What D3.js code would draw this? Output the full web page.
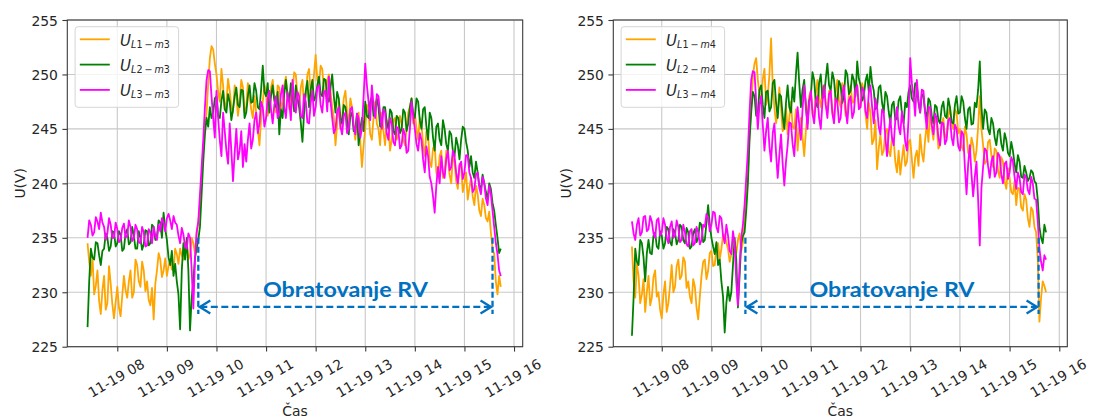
<!DOCTYPE html>
<html>
<head>
<meta charset="utf-8">
<script src="https://cdn.jsdelivr.net/npm/d3@7"></script>
<style>
  body { margin: 0; background: #fff; }
  svg { display: block; }
</style>
</head>
<body>
<svg id="chart" width="1093" height="420"></svg>
<script>
// Phase voltages at two metering points (m3, m4), one sample every two minutes
const startTime = "2020-11-19T07:24";
const stepMinutes = 2;

const uL1m3 = [
  234.5, 232.8, 231.5, 233.2, 229.8, 230.6, 232.0, 229.2, 228.0, 230.2,
  231.5, 228.4, 229.0, 232.4, 230.8, 228.9, 227.6, 229.1, 230.5, 228.6,
  227.8, 229.7, 231.5, 230.2, 229.5, 231.0, 232.0, 229.5, 230.0, 233.0,
  232.5, 231.0, 230.5, 232.8, 232.0, 230.1, 231.0, 229.3, 228.8, 230.4,
  227.5, 230.8, 232.0, 233.6, 233.0, 231.4, 232.0, 233.1, 231.5, 232.4,
  233.0, 232.1, 232.0, 234.0, 233.5, 232.6, 234.0, 233.4, 233.0, 234.6,
  234.5, 233.0, 233.5, 235.0, 234.5, 233.6, 235.5, 236.4, 238.0, 240.5,
  243.0, 245.0, 246.5, 249.2, 251.5, 252.6, 252.3, 251.0, 250.0, 248.4,
  247.5, 250.5, 249.0, 246.8, 247.5, 249.6, 248.5, 247.0, 246.5, 249.0,
  248.0, 246.2, 247.5, 249.5, 248.8, 246.5, 247.0, 249.2, 248.0, 246.8,
  246.0, 248.0, 246.5, 245.0, 243.5, 246.0, 247.5, 249.0, 248.5, 246.2,
  247.0, 248.8, 249.5, 247.8, 246.5, 249.0, 248.8, 246.8, 247.5, 249.0,
  249.8, 248.0, 246.8, 248.2, 248.5, 250.2, 250.0, 248.0, 247.0, 248.8,
  249.5, 247.0, 248.0, 250.0, 250.5, 248.2, 248.5, 250.0, 251.8, 249.5,
  249.0, 250.8, 250.5, 248.5, 248.0, 249.5, 250.0, 248.5, 247.0, 246.0,
  243.5, 245.5, 247.5, 245.0, 246.0, 247.8, 248.5, 246.5, 245.5, 247.8,
  247.0, 245.2, 244.0, 246.0, 246.5, 243.8, 241.5, 243.5, 245.0, 247.2,
  246.5, 244.5, 244.0, 246.0, 247.5, 245.5, 245.0, 243.5, 246.5, 244.8,
  243.5, 245.8, 245.5, 243.0, 244.0, 245.8, 246.0, 244.0, 244.5, 246.2,
  245.5, 244.0, 243.5, 245.0, 246.5, 247.0, 247.8, 245.5, 246.5, 245.0,
  244.0, 246.0, 245.5, 243.5, 242.5, 244.8, 244.5, 242.0, 241.5, 243.2,
  243.5, 241.0, 240.5, 242.5, 243.0, 240.5, 241.0, 243.0, 242.5, 240.8,
  240.0, 242.5, 242.0, 240.2, 239.5, 241.8, 241.5, 239.2, 240.0, 241.0,
  238.5, 239.6, 240.5, 238.8, 238.0, 239.8, 239.0, 237.5, 237.0, 238.6,
  238.0, 236.8, 236.5, 237.4, 235.5, 234.0, 233.5, 231.0, 229.8, 231.5,
  230.5
];
const uL2m3 = [
  226.8, 231.0, 234.0, 233.2, 233.0, 234.6, 234.5, 233.4, 232.5, 233.8,
  234.0, 235.4, 235.0, 233.8, 234.2, 235.6, 235.5, 234.2, 234.5, 235.6,
  235.3, 233.8, 234.0, 235.4, 235.8, 234.4, 234.6, 236.0, 235.2, 234.0,
  234.0, 235.6, 235.0, 233.9, 234.4, 235.7, 235.6, 234.3, 234.5, 236.2,
  236.0, 234.8, 235.2, 236.6, 236.4, 235.0, 237.3, 235.8, 234.8, 233.2,
  232.5, 233.8, 231.5, 232.6, 231.0, 229.8, 226.6, 232.0, 234.5, 233.0,
  235.0, 232.0, 226.5, 229.5, 231.0, 233.2, 234.0, 234.8, 236.0, 239.0,
  242.0, 244.5, 246.0, 245.2, 247.0, 246.0, 246.5, 247.8, 248.0, 246.2,
  246.0, 247.6, 248.5, 246.8, 246.5, 248.2, 247.5, 245.8, 246.8, 248.0,
  248.8, 247.2, 247.0, 248.6, 248.5, 246.0, 246.5, 248.0, 249.0, 247.4,
  247.5, 249.2, 248.5, 247.0, 246.8, 248.6, 250.8, 248.4, 248.0, 249.2,
  246.5, 248.0, 249.0, 247.6, 247.0, 248.4, 244.5, 246.8, 246.0, 248.2,
  249.5, 248.0, 247.5, 249.2, 248.0, 246.6, 249.0, 247.8, 247.0, 245.6,
  243.8, 246.5, 248.5, 249.4, 247.0, 248.6, 249.5, 247.6, 248.0, 249.0,
  249.8, 248.2, 248.0, 249.6, 249.5, 247.8, 247.5, 248.8, 250.0, 248.0,
  246.5, 248.4, 247.8, 246.0, 245.5, 247.2, 247.0, 245.8, 244.5, 246.2,
  246.5, 244.8, 245.0, 246.4, 243.5, 245.0, 246.0, 244.8, 247.5, 246.2,
  246.0, 247.5, 248.0, 246.2, 246.5, 247.8, 247.0, 245.2, 245.5, 247.0,
  247.0, 245.6, 245.0, 246.8, 246.5, 244.8, 244.5, 246.2, 246.0, 244.6,
  245.0, 246.8, 246.5, 244.8, 245.5, 247.0, 247.8, 246.4, 246.0, 247.8,
  247.5, 245.8, 245.0, 246.8, 247.0, 245.2, 244.0, 246.5, 246.0, 244.2,
  243.0, 245.2, 245.5, 244.0, 243.5, 245.8, 245.0, 243.6, 243.0, 244.8,
  244.5, 243.0, 242.5, 244.2, 243.5, 242.2, 244.0, 245.2, 245.0, 243.8,
  243.0, 241.5, 242.5, 241.0, 240.5, 242.0, 241.0, 239.8, 239.5, 240.8,
  240.0, 239.2, 238.5, 240.0, 239.5, 238.2, 237.5, 236.2, 235.0, 233.6,
  234.0
];
const uL3m3 = [
  235.0, 236.6, 236.2, 235.2, 235.5, 236.9, 236.5, 235.8, 237.3, 236.4,
  236.0, 234.8, 235.4, 236.8, 236.2, 235.0, 235.0, 236.4, 235.8, 234.6,
  234.8, 235.9, 236.3, 235.0, 235.2, 236.6, 236.0, 234.7, 235.0, 236.2,
  235.8, 234.6, 234.5, 236.0, 235.5, 234.2, 234.3, 235.8, 235.5, 234.5,
  236.0, 235.2, 234.8, 236.2, 235.6, 236.8, 236.4, 235.6, 236.8, 237.2,
  236.6, 235.8, 237.0, 236.4, 236.2, 235.2, 234.5, 235.9, 235.3, 234.2,
  234.0, 235.4, 235.0, 232.0, 228.5, 233.0, 235.5, 236.5, 239.0, 241.5,
  244.0, 247.0, 249.5, 250.4, 250.3, 248.0, 246.0, 244.2, 248.5, 246.0,
  244.0, 242.5, 246.5, 244.8, 243.0, 241.8, 245.5, 243.0, 240.2, 242.8,
  245.0, 242.2, 243.0, 244.8, 241.5, 243.6, 242.0, 244.0, 245.5, 243.2,
  244.0, 245.8, 246.5, 244.6, 245.5, 247.5, 247.0, 245.2, 246.0, 247.8,
  248.5, 246.8, 245.5, 247.2, 248.0, 246.0, 246.5, 248.2, 249.0, 247.0,
  246.0, 248.4, 247.5, 245.8, 249.5, 247.6, 246.5, 248.4, 248.0, 246.2,
  246.0, 248.2, 247.5, 245.6, 245.5, 247.4, 248.5, 246.2, 247.0, 248.8,
  249.0, 247.2, 246.5, 248.4, 248.5, 246.6, 249.8, 247.5, 246.0, 244.6,
  245.0, 246.6, 247.0, 245.2, 244.5, 246.2, 246.5, 244.6, 245.0, 246.8,
  247.0, 245.2, 244.5, 246.4, 246.0, 244.2, 245.0, 248.0, 251.0, 249.0,
  247.5, 245.8, 249.0, 247.2, 246.0, 248.2, 248.0, 246.4, 245.0, 246.8,
  246.5, 244.6, 244.0, 246.0, 245.5, 243.8, 243.5, 245.2, 245.0, 243.2,
  243.5, 245.0, 244.5, 242.8, 243.0, 245.0, 247.5, 246.2, 245.0, 243.6,
  243.0, 244.6, 244.0, 242.2, 241.0, 243.4, 242.5, 240.6, 240.0, 238.8,
  237.3, 239.8, 241.5, 240.0, 242.5, 241.0, 240.5, 242.2, 243.0, 241.2,
  241.5, 243.0, 242.5, 241.0, 240.0, 241.6, 242.0, 240.4, 241.0, 242.6,
  242.5, 241.0, 240.5, 239.2, 239.5, 240.8, 241.0, 239.6, 239.0, 240.6,
  240.0, 238.6, 238.0, 239.8, 239.0, 237.5, 236.0, 234.5, 233.5, 232.0,
  231.5
];

const uL1m4 = [
  234.2, 231.0, 229.5, 232.6, 231.5, 229.0, 229.8, 231.2, 228.2, 230.0,
  231.5, 228.8, 229.5, 231.4, 232.0, 229.6, 230.0, 228.4, 227.6, 229.8,
  231.0, 228.2, 229.0, 230.6, 232.5, 230.0, 230.5, 232.4, 233.0, 231.2,
  231.5, 233.2, 232.8, 230.4, 231.0, 229.6, 229.0, 231.2, 230.5, 228.6,
  227.5, 229.6, 231.5, 232.8, 233.0, 231.2, 232.0, 233.6, 233.8, 232.4,
  232.5, 234.2, 234.5, 233.0, 234.0, 235.2, 235.3, 234.6, 234.0, 232.8,
  233.5, 235.0, 234.5, 233.6, 234.8, 235.4, 233.8, 234.6, 236.5, 238.5,
  241.0, 244.5, 247.0, 249.8, 251.0, 251.5, 249.5, 248.2, 247.5, 249.6,
  250.5, 247.2, 248.0, 250.0, 253.3, 249.0, 247.0, 245.5, 246.5, 248.8,
  247.0, 244.8, 245.0, 247.2, 244.5, 246.0, 247.5, 245.2, 245.0, 246.8,
  243.0, 245.0, 246.0, 244.2, 242.5, 244.8, 246.5, 248.0, 248.5, 246.8,
  246.0, 248.2, 249.5, 247.8, 247.0, 248.8, 249.0, 247.2, 246.5, 248.5,
  248.5, 246.6, 246.0, 248.4, 249.5, 247.6, 247.0, 249.2, 248.0, 246.2,
  246.5, 248.2, 249.0, 247.4, 247.5, 249.4, 249.0, 247.2, 247.0, 249.2,
  248.5, 246.4, 245.0, 247.4, 246.5, 243.6, 244.0, 245.8, 241.3, 243.2,
  244.5, 242.6, 243.0, 244.8, 245.0, 243.0, 242.5, 244.2, 244.0, 242.0,
  241.0, 243.0, 240.8, 242.2, 243.5, 241.6, 242.0, 243.8, 244.0, 242.2,
  240.5, 242.4, 243.0, 241.6, 244.5, 242.8, 242.0, 244.0, 245.5, 243.8,
  246.8, 245.0, 244.0, 246.2, 245.5, 243.2, 243.5, 245.4, 246.0, 244.2,
  244.5, 246.2, 247.0, 245.4, 245.0, 246.8, 246.5, 244.6, 245.0, 243.4,
  243.0, 245.2, 244.5, 242.8, 242.5, 244.2, 243.5, 242.0, 243.0, 245.2,
  248.0, 245.0, 243.5, 241.8, 242.0, 243.8, 244.0, 242.6, 241.5, 243.2,
  243.0, 241.2, 240.5, 242.4, 242.0, 240.2, 239.5, 241.4, 240.5, 239.2,
  239.0, 240.2, 238.0, 239.6, 239.5, 237.8, 237.5, 239.0, 238.5, 236.8,
  236.0, 237.8, 237.5, 236.0, 235.5, 233.0, 227.3, 229.5, 231.0, 230.6,
  230.0
];
const uL2m4 = [
  226.0, 229.5, 234.0, 232.8, 232.5, 234.8, 234.5, 233.2, 231.0, 233.6,
  234.8, 233.6, 233.5, 235.2, 235.5, 234.2, 234.0, 235.6, 235.2, 234.0,
  234.5, 236.0, 235.8, 234.6, 234.3, 235.8, 235.5, 234.4, 234.8, 236.2,
  236.0, 234.8, 234.5, 235.9, 235.5, 234.0, 234.2, 235.4, 235.8, 234.6,
  235.0, 236.4, 236.2, 234.6, 234.8, 236.4, 238.0, 236.2, 235.0, 234.2,
  233.5, 234.6, 232.5, 233.0, 231.0, 229.6, 226.3, 229.0, 230.5, 229.2,
  230.0, 232.5, 235.0, 233.0, 228.6, 231.5, 234.5, 235.2, 235.5, 237.5,
  240.0, 244.0, 246.5, 248.4, 248.0, 246.2, 246.5, 248.6, 249.0, 247.2,
  246.0, 248.4, 248.5, 246.6, 247.0, 249.2, 249.5, 247.4, 246.0, 248.2,
  248.0, 246.2, 245.0, 247.4, 249.0, 247.0, 246.5, 248.8, 247.5, 250.0,
  252.0, 249.2, 247.0, 248.6, 249.5, 247.0, 245.5, 247.6, 248.0, 250.2,
  249.5, 247.4, 247.0, 249.2, 250.0, 247.8, 248.0, 249.6, 251.0, 249.0,
  248.5, 250.2, 249.5, 247.6, 247.5, 249.4, 249.0, 247.4, 248.0, 250.4,
  250.0, 248.2, 248.5, 250.0, 249.5, 248.0, 251.2, 249.6, 249.0, 247.6,
  248.0, 249.4, 250.0, 248.4, 250.7, 249.2, 248.5, 246.8, 247.0, 248.8,
  249.0, 247.4, 246.5, 248.4, 248.0, 246.6, 245.5, 247.2, 247.5, 245.8,
  246.0, 247.6, 248.0, 246.4, 245.5, 247.4, 247.0, 248.4, 249.0, 247.8,
  247.5, 249.2, 249.0, 247.4, 246.5, 248.2, 248.0, 246.6, 246.0, 247.8,
  247.5, 246.2, 245.5, 247.2, 247.0, 245.8, 245.5, 247.0, 247.5, 246.2,
  246.0, 247.8, 247.0, 245.6, 245.5, 247.2, 248.0, 246.4, 246.5, 248.0,
  247.5, 246.0, 245.0, 246.8, 247.0, 245.4, 245.5, 247.4, 247.0, 248.6,
  251.2, 247.0, 245.0, 246.8, 246.5, 245.0, 244.5, 246.0, 245.5, 244.2,
  243.5, 244.8, 245.0, 243.6, 243.0, 244.6, 244.0, 242.8, 242.5, 243.8,
  243.0, 241.8, 241.0, 242.6, 242.0, 240.6, 240.5, 241.6, 241.0, 240.2,
  240.5, 241.2, 241.0, 240.2, 240.0, 238.5, 236.0, 235.0, 234.5, 236.2,
  235.5
];
const uL3m4 = [
  236.5, 235.4, 234.8, 236.2, 236.8, 235.2, 235.5, 236.9, 237.0, 235.6,
  235.8, 237.0, 236.5, 235.4, 235.0, 236.6, 236.8, 235.2, 235.5, 236.8,
  236.2, 235.0, 234.5, 236.0, 236.5, 235.0, 235.2, 236.6, 236.0, 234.6,
  234.8, 236.2, 235.5, 234.4, 234.2, 235.6, 235.8, 234.3, 234.5, 236.0,
  235.5, 234.4, 234.8, 236.2, 236.0, 237.2, 236.8, 235.6, 236.2, 237.4,
  237.3, 236.0, 235.5, 237.0, 236.8, 235.2, 234.5, 236.2, 235.2, 233.8,
  233.5, 235.6, 234.5, 231.0, 228.8, 232.5, 235.0, 236.2, 238.0, 240.5,
  243.0, 246.5, 249.5, 250.3, 250.2, 247.5, 245.0, 247.2, 248.0, 245.4,
  243.0, 244.8, 246.0, 243.4, 242.0, 244.6, 245.5, 242.8, 240.5, 242.6,
  244.5, 241.8, 239.8, 242.0, 243.5, 245.6, 245.5, 243.6, 242.5, 245.2,
  247.0, 245.4, 244.0, 246.8, 249.0, 247.2, 245.0, 247.4, 248.5, 246.4,
  245.5, 247.6, 248.0, 246.0, 245.0, 247.4, 249.0, 247.2, 246.0, 248.2,
  248.5, 246.4, 245.5, 247.8, 247.5, 245.6, 246.0, 248.2, 249.0, 246.8,
  245.5, 247.6, 248.0, 246.0, 246.5, 248.6, 249.0, 246.8, 247.0, 248.8,
  248.5, 246.6, 246.0, 248.4, 249.0, 247.0, 245.5, 247.8, 247.0, 245.2,
  244.5, 246.8, 246.5, 244.2, 242.5, 244.6, 246.0, 244.2, 243.5, 245.8,
  247.0, 245.2, 244.5, 246.6, 245.5, 243.8, 243.0, 246.0, 251.5, 249.2,
  248.0, 246.2, 249.5, 247.6, 246.5, 248.6, 248.5, 246.4, 245.0, 247.0,
  247.0, 245.4, 244.5, 246.4, 246.0, 244.2, 243.5, 245.6, 245.5, 243.6,
  244.0, 245.8, 246.0, 244.2, 243.5, 245.4, 245.0, 243.4, 243.0, 244.8,
  244.5, 241.5, 239.0, 241.8, 243.5, 240.8, 238.8, 240.6, 242.0, 238.5,
  234.3, 239.6, 241.5, 243.2, 243.0, 241.6, 240.5, 242.0, 242.5, 240.6,
  241.0, 242.8, 242.5, 240.8, 240.0, 241.8, 242.0, 240.4, 241.0, 242.4,
  242.0, 240.6, 239.5, 241.0, 240.5, 239.2, 239.0, 240.8, 240.5, 239.4,
  239.0, 240.6, 240.0, 238.6, 238.5, 236.5, 234.0, 232.8, 232.0, 233.4,
  233.0
];

const phaseNames = ["L1", "L2", "L3"];
const yTicks = [225, 230, 235, 240, 245, 250, 255];
const xTickTimes = [
  "2020-11-19T08:00", "2020-11-19T09:00", "2020-11-19T10:00",
  "2020-11-19T11:00", "2020-11-19T12:00", "2020-11-19T13:00",
  "2020-11-19T14:00", "2020-11-19T15:00", "2020-11-19T16:00"
];
const annotationText = "Obratovanje RV";
const xLabel = "Čas";
const yLabel = "U(V)";

// ---- styling & layout ----
const phaseColors = ["#FFA500", "#008000", "#FF00FF"];
const annotColor = "#0070C0";
const parseMin = d3.timeParse("%Y-%m-%dT%H:%M");
const parseSec = d3.timeParse("%Y-%m-%dT%H:%M:%S");

const t0 = parseMin(startTime);
const times = d3.range(uL1m3.length).map(i => d3.timeMinute.offset(t0, i * stepMinutes));
const tickDates = xTickTimes.map(parseMin);

const plotTop = 20, plotBottom = 346.7;

const panels = [
  {
    meter: "m3", series: [uL1m3, uL2m3, uL3m3], left: 67.3, right: 522.7,
    domain: ["2020-11-19T06:59:30", "2020-11-19T16:10:30"],
    opStart: "2020-11-19T09:38", opEnd: "2020-11-19T15:34"
  },
  {
    meter: "m4", series: [uL1m4, uL2m4, uL3m4], left: 613.3, right: 1067.3,
    domain: ["2020-11-19T07:01:30", "2020-11-19T16:09:40"],
    opStart: "2020-11-19T09:41", opEnd: "2020-11-19T15:35"
  }
];

const svg = d3.select("#chart");
const fontFam = "'DejaVu Sans', sans-serif";
const fmt = d3.timeFormat("%m-%d %H");

panels.forEach((p, pi) => {
  const x = d3.scaleTime().domain(p.domain.map(parseSec)).range([p.left, p.right]);
  const y = d3.scaleLinear().domain([225, 255]).range([plotBottom, plotTop]);
  const g = svg.append("g");

  // grid
  g.append("g").selectAll("line").data(tickDates).join("line")
    .attr("x1", d => x(d)).attr("x2", d => x(d))
    .attr("y1", plotTop).attr("y2", plotBottom)
    .attr("stroke", "#c8c8c8").attr("stroke-width", 1.1);
  g.append("g").selectAll("line").data(yTicks).join("line")
    .attr("x1", p.left).attr("x2", p.right)
    .attr("y1", d => y(d)).attr("y2", d => y(d))
    .attr("stroke", "#c8c8c8").attr("stroke-width", 1.1);

  // clip to the plotting area
  const clipId = "clip" + pi;
  svg.append("clipPath").attr("id", clipId).append("rect")
    .attr("x", p.left).attr("y", plotTop)
    .attr("width", p.right - p.left).attr("height", plotBottom - plotTop);

  // phase voltage lines (L1, L2, L3 drawn in that order)
  const line = d3.line().x((d, i) => x(times[i])).y(d => y(d));
  const lg = g.append("g").attr("clip-path", `url(#${clipId})`);
  p.series.forEach((s, k) => {
    lg.append("path").datum(s)
      .attr("d", line)
      .attr("fill", "none")
      .attr("stroke", phaseColors[k])
      .attr("stroke-width", 1.8)
      .attr("stroke-linejoin", "round");
  });

  // frame
  g.append("rect")
    .attr("x", p.left).attr("y", plotTop)
    .attr("width", p.right - p.left).attr("height", plotBottom - plotTop)
    .attr("fill", "none").attr("stroke", "#3a3a3a").attr("stroke-width", 1.1);

  // axes
  const yAxis = g.append("g").attr("transform", `translate(${p.left},0)`)
    .call(d3.axisLeft(y).tickValues(yTicks).tickSize(4.9).tickPadding(4.5));
  yAxis.select(".domain").remove();
  yAxis.selectAll("line").attr("stroke", "#3a3a3a").attr("stroke-width", 1.1);
  yAxis.selectAll("text").attr("font-size", 13.9).attr("font-family", fontFam)
    .attr("fill", "#262626").attr("dy", "0.36em");

  const xAxis = g.append("g").attr("transform", `translate(0,${plotBottom})`)
    .call(d3.axisBottom(x).tickValues(tickDates).tickSize(4.9).tickFormat(fmt));
  xAxis.select(".domain").remove();
  xAxis.selectAll("line").attr("stroke", "#3a3a3a").attr("stroke-width", 1.1);
  xAxis.selectAll("text")
    .attr("font-size", 13.9).attr("font-family", fontFam).attr("fill", "#262626")
    .attr("text-anchor", "middle")
    .attr("y", 0).attr("dy", "0.35em")
    .attr("transform", "translate(-1.5,31.5) rotate(-30)");

  // axis titles
  g.append("text")
    .attr("x", (p.left + p.right) / 2).attr("y", 416)
    .attr("text-anchor", "middle")
    .attr("font-size", 13.9).attr("font-family", fontFam).attr("fill", "#262626")
    .text(xLabel);
  g.append("text")
    .attr("transform", `translate(${p.left - 47.3},${(plotTop + plotBottom) / 2}) rotate(-90)`)
    .attr("text-anchor", "middle").attr("dy", "0.35em")
    .attr("font-size", 13.9).attr("font-family", fontFam).attr("fill", "#262626")
    .text(yLabel);

  // legend
  const lx = p.left + 7.8, ly = 26.7;
  const leg = g.append("g");
  leg.append("rect")
    .attr("x", lx).attr("y", ly).attr("width", 103.5).attr("height", 80.6)
    .attr("rx", 3).attr("fill", "#fff").attr("fill-opacity", 0.8)
    .attr("stroke", "#d6d6d6").attr("stroke-width", 1);
  phaseNames.forEach((name, k) => {
    const cy = ly + 12.6 + k * 25.3;
    leg.append("line")
      .attr("x1", lx + 4.7).attr("x2", lx + 34.7)
      .attr("y1", cy).attr("y2", cy)
      .attr("stroke", phaseColors[k]).attr("stroke-width", 1.8);
    const t = leg.append("text")
      .attr("x", lx + 45).attr("y", cy + 6.5)
      .attr("font-family", fontFam).attr("fill", "#262626");
    t.append("tspan").attr("font-size", 15).attr("font-style", "italic").text("U");
    const sub = [
      [name.charAt(0), true], [name.slice(1), false], ["\u2009\u2212\u2009", false],
      [p.meter.charAt(0), true], [p.meter.slice(1), false]
    ];
    sub.forEach((s, j) => {
      const ts = t.append("tspan").attr("font-size", 9.6)
        .attr("font-style", s[1] ? "italic" : "normal").text(s[0]);
      if (j === 0) ts.attr("dy", 2);
    });
  });

  // operating window annotation: dashed bounds with a double-headed arrow
  const xa = x(parseMin(p.opStart)), xb = x(parseMin(p.opEnd));
  const yTop = y(235), yBot = y(228), yArrow = y(228.65);
  const ann = g.append("g").attr("stroke", annotColor).attr("fill", "none")
    .attr("stroke-width", 2.3);
  [xa, xb].forEach(xx => {
    ann.append("line").attr("x1", xx).attr("x2", xx)
      .attr("y1", yTop).attr("y2", yBot)
      .attr("stroke-dasharray", "6,3");
  });
  ann.append("line").attr("x1", xa + 2).attr("x2", xb - 2)
    .attr("y1", yArrow).attr("y2", yArrow)
    .attr("stroke-dasharray", "7,3.5");
  ann.append("path")
    .attr("d", `M${xa + 12},${yArrow - 6.5} L${xa + 1.5},${yArrow} L${xa + 12},${yArrow + 6.5}`);
  ann.append("path")
    .attr("d", `M${xb - 12},${yArrow - 6.5} L${xb - 1.5},${yArrow} L${xb - 12},${yArrow + 6.5}`);

  g.append("text")
    .attr("x", (xa + xb) / 2).attr("y", y(229.55))
    .attr("text-anchor", "middle")
    .attr("font-family", "Lato, 'Open Sans', sans-serif")
    .attr("font-weight", "bold").attr("font-size", 21.5)
    .attr("fill", annotColor)
    .attr("textLength", 165).attr("lengthAdjust", "spacingAndGlyphs")
    .text(annotationText);
});
</script>
</body>
</html>
